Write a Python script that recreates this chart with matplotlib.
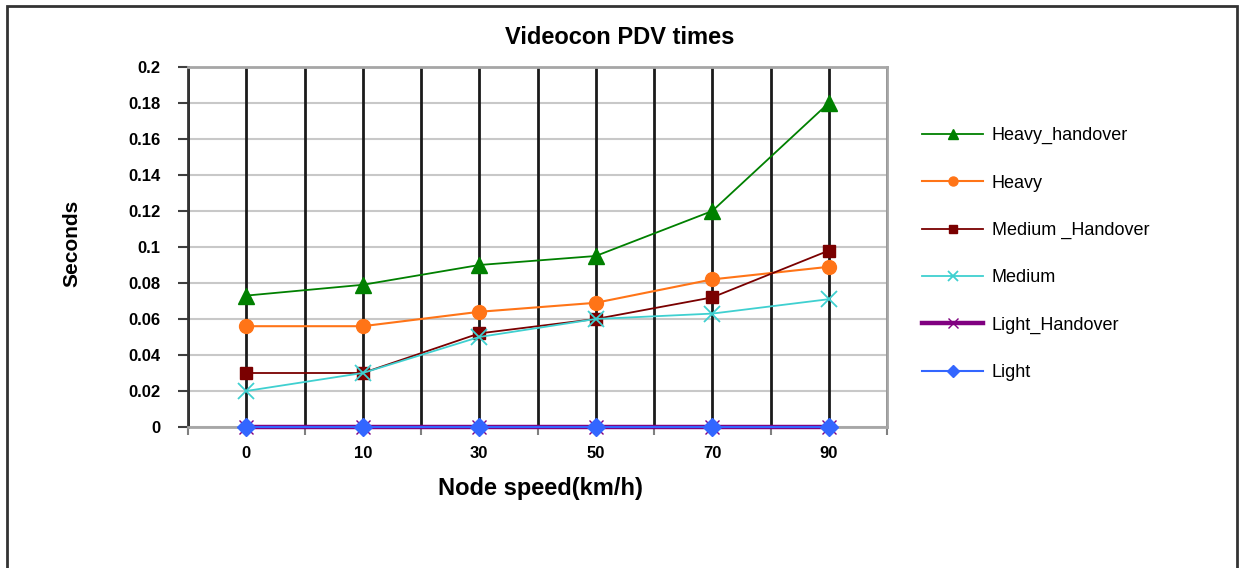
import matplotlib.pyplot as plt
from matplotlib.patches import Rectangle
from matplotlib.ticker import FixedLocator

# data
speeds = ['0', '10', '30', '50', '70', '90']
heavy_handover = [0.073, 0.079, 0.090, 0.095, 0.120, 0.180]
heavy = [0.056, 0.056, 0.064, 0.069, 0.082, 0.089]
medium_handover = [0.030, 0.030, 0.052, 0.060, 0.072, 0.098]
medium = [0.020, 0.030, 0.050, 0.060, 0.063, 0.071]
light_handover = [0, 0, 0, 0, 0, 0]
light = [0, 0, 0, 0, 0, 0]

y_ticks = [0, 0.02, 0.04, 0.06, 0.08, 0.1, 0.12, 0.14, 0.16, 0.18, 0.2]
y_labels = ['0', '0.02', '0.04', '0.06', '0.08', '0.1', '0.12', '0.14', '0.16', '0.18', '0.2']

plt.rcParams['font.family'] = ['Liberation Sans', 'DejaVu Sans']

fig = plt.figure(figsize=(12.39, 5.68), dpi=100)
ax = fig.add_axes([188 / 1239, 141 / 568, 699 / 1239, 360 / 568])

x = list(range(len(speeds)))

ax.plot(x, heavy_handover, color='#008000', lw=1.3, marker='^', ms=11, label='Heavy_handover', zorder=3, clip_on=False)
ax.plot(x, heavy, color='#FF7417', lw=1.5, marker='o', ms=10, label='Heavy', zorder=3, clip_on=False)
ax.plot(x, medium_handover, color='#7A0000', lw=1.3, marker='s', ms=9, label='Medium _Handover', zorder=3, clip_on=False)
ax.plot(x, medium, color='#3FD0D0', lw=1.3, marker='x', ms=11, mew=1.3, label='Medium', zorder=3, clip_on=False)
ax.plot(x, light_handover, color='#800080', lw=3.2, marker='x', ms=10, mew=1.0, label='Light_Handover', zorder=3, clip_on=False)
ax.plot(x, light, color='#3366FF', lw=1.5, marker='D', ms=9, label='Light', zorder=3, clip_on=False)

ax.set_xlim(-0.5, len(speeds) - 0.5)
ax.set_ylim(0, 0.2)
ax.set_xticks(x)
ax.set_xticklabels(speeds, fontsize=12, fontweight='bold')
ax.xaxis.set_minor_locator(FixedLocator([i - 0.5 for i in range(len(speeds) + 1)]))
ax.set_yticks(y_ticks)
ax.set_yticklabels(y_labels, fontsize=12, fontweight='bold')

ax.tick_params(axis='x', which='major', length=0, pad=14)
ax.tick_params(axis='x', which='minor', length=6, width=1.5, color='#808080')
ax.tick_params(axis='y', length=7, width=1.5, color='#404040', pad=13)

ax.set_axisbelow(True)
ax.yaxis.grid(True, color='#C8C8C8', lw=1.5)
ax.xaxis.grid(True, which='both', color='#1a1a1a', lw=2)
ax.xaxis.set_zorder(0.6)

for side in ['top', 'right', 'bottom']:
    ax.spines[side].set_color('#A6A6A6')
    ax.spines[side].set_linewidth(2)
ax.spines['left'].set_color('#333333')
ax.spines['left'].set_linewidth(2)

ax.set_xlabel('Node speed(km/h)', fontsize=17, fontweight='bold')
ax.xaxis.set_label_coords(0.504, -0.14)
ax.set_ylabel('Seconds', fontsize=15, fontweight='bold')
ax.yaxis.set_label_coords(-0.152, 0.51)

fig.text(0.5, 1 - 37 / 568, 'Videocon PDV times', ha='center', va='center',
         fontsize=17, fontweight='bold')

ax.legend(loc='upper left', bbox_to_anchor=(913 / 1239, 1 - 118 / 568),
          bbox_transform=fig.transFigure, frameon=False, fontsize=13,
          handlelength=3.4, handletextpad=0.45, labelspacing=1.68, borderpad=0,
          markerscale=0.65)

fig.add_artist(Rectangle((7 / 1239, -0.1), 1230 / 1239, 1.1 - 6 / 568,
                         transform=fig.transFigure, fill=False,
                         edgecolor='#333333', lw=2))

fig.savefig('out.png', dpi=100)
